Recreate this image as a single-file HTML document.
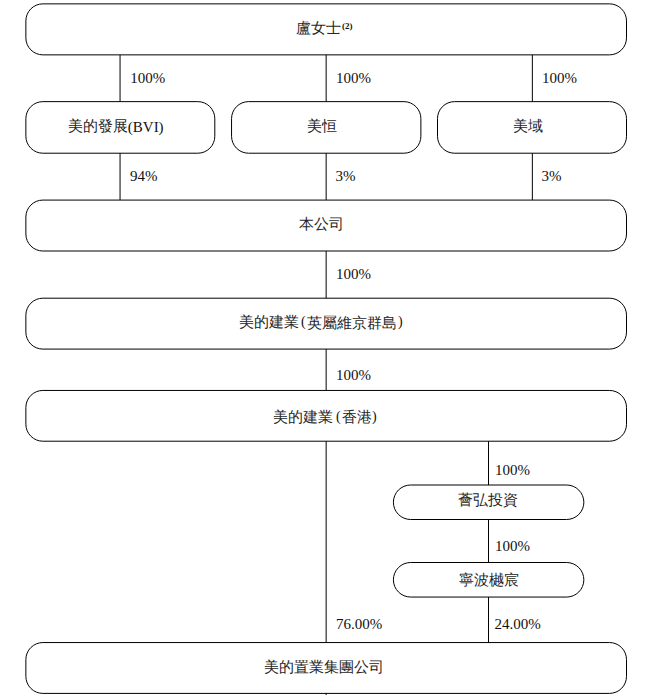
<!DOCTYPE html>
<html><head><meta charset="utf-8"><style>
html,body{margin:0;padding:0;background:#fff;width:653px;height:695px;overflow:hidden}
svg{display:block}
text{font-family:"Liberation Serif",serif;font-size:15px;fill:#111}
.c{fill:#262626}
</style></head><body>
<svg width="653" height="695" viewBox="0 0 653 695">
<rect width="653" height="695" fill="#fff"/>
<g fill="none" stroke="#000" stroke-width="1.0">
<rect x="25.87" y="3.86" width="600.63" height="51.00" rx="17"/>
<rect x="25.87" y="101.64" width="188.94" height="51.57" rx="17"/>
<rect x="231.55" y="101.64" width="189.34" height="51.57" rx="17"/>
<rect x="437.50" y="101.64" width="189.00" height="51.57" rx="17"/>
<rect x="25.87" y="200.08" width="600.63" height="50.92" rx="17"/>
<rect x="25.87" y="298.19" width="600.63" height="50.90" rx="17"/>
<rect x="25.87" y="390.44" width="600.63" height="50.77" rx="17"/>
<rect x="393.40" y="485.00" width="190.45" height="34.50" rx="17.25"/>
<rect x="393.40" y="562.50" width="190.45" height="34.55" rx="17.27"/>
<rect x="25.87" y="642.55" width="600.63" height="50.85" rx="17"/>
<line x1="120.05" y1="54.86" x2="120.05" y2="101.64"/>
<line x1="120.05" y1="153.21" x2="120.05" y2="200.08"/>
<line x1="326.15" y1="54.86" x2="326.15" y2="101.64"/>
<line x1="326.15" y1="153.21" x2="326.15" y2="200.08"/>
<line x1="326.15" y1="251.00" x2="326.15" y2="298.19"/>
<line x1="326.15" y1="349.09" x2="326.15" y2="390.44"/>
<line x1="326.15" y1="441.21" x2="326.15" y2="642.55"/>
<line x1="326.15" y1="693.40" x2="326.15" y2="700.00"/>
<line x1="532.35" y1="54.86" x2="532.35" y2="101.64"/>
<line x1="532.35" y1="153.21" x2="532.35" y2="200.08"/>
<line x1="488.50" y1="441.21" x2="488.50" y2="485.00"/>
<line x1="488.50" y1="519.50" x2="488.50" y2="562.50"/>
<line x1="488.50" y1="597.05" x2="488.50" y2="642.55"/>
</g>
<text x="130.3" y="83.0">100%</text>
<text x="336.1" y="83.0">100%</text>
<text x="541.9" y="83.0">100%</text>
<text x="129.9" y="181.2">94%</text>
<text x="335.4" y="181.2">3%</text>
<text x="541.6" y="181.2">3%</text>
<text x="336.0" y="279.0">100%</text>
<text x="336.0" y="380.3">100%</text>
<text x="495.0" y="474.9">100%</text>
<text x="495.0" y="551.0">100%</text>
<text x="336.0" y="629.2">76.00%</text>
<text x="494.5" y="629.0">24.00%</text>
<text class="c" x="295.5" y="32.9">盧女士</text>
<text x="342.0" y="29.4" style="font-size:9px;font-weight:bold">(2)</text>
<text class="c" x="67.6" y="130.8">美的發展</text>
<text x="127.8" y="132.4">(BVI)</text>
<text class="c" x="306.6" y="131.3">美恒</text>
<text class="c" x="512.8" y="131.1">美域</text>
<text class="c" x="299.2" y="229.4">本公司</text>
<text class="c" x="239.2" y="327.0">美的建業</text>
<text x="301.0" y="325.8" style="font-size:14px">(</text>
<text class="c" x="307.4" y="327.5">英屬維京群島</text>
<text x="398.0" y="325.8" style="font-size:14px">)</text>
<text class="c" x="272.8" y="422.0">美的建業</text>
<text x="335.9" y="420.5" style="font-size:14px">(</text>
<text class="c" x="342.2" y="422.0">香港</text>
<text x="372.0" y="420.5" style="font-size:14px">)</text>
<text class="c" x="458.0" y="505.2">薈弘投資</text>
<text class="c" x="458.7" y="585.0">寧波樾宸</text>
<text class="c" x="264.0" y="672.4">美的置業集團公司</text>
</svg></body></html>
